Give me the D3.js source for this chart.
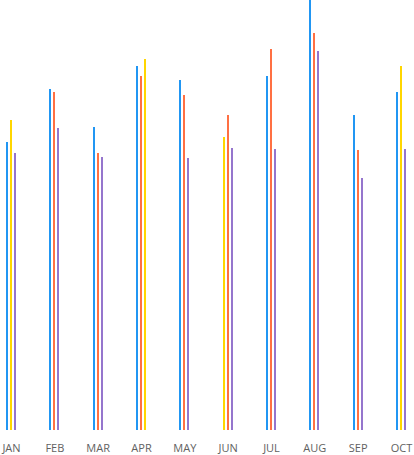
<!DOCTYPE html>
<html>
<head>
<meta charset="utf-8">
<script src="https://cdn.jsdelivr.net/npm/d3@7"></script>
<style>
  html, body { margin: 0; padding: 0; background: #fff; }
  svg { display: block; }
</style>
</head>
<body>
<svg id="chart" width="414" height="455"></svg>
<script>
// ---- data ----
const months = ["JAN","FEB","MAR","APR","MAY","JUN","JUL","AUG","SEP","OCT"];
// three bars per month; each bar belongs to one series (A blue, B yellow, C orange, D purple)
const bar1Series = ["A","A","A","A","A","B","A","A","A","A"];
const bar1Values = [72, 85.25, 75.75, 91, 87.5, 73.25, 88.5, 110, 78.75, 84.5];
const bar2Series = ["B","C","C","C","C","C","C","C","C","B"];
const bar2Values = [77.5, 84.5, 69.25, 88.5, 83.75, 78.75, 95.25, 99.25, 70, 91];
const bar3Series = ["D","D","D","B","D","D","D","D","D","D"];
const bar3Values = [69.25, 75.5, 68.25, 92.75, 68, 70.5, 70.25, 94.75, 63, 70.25];
const seriesKeys = ["A","B","C","D"];
const seriesColors = ["#2196F3","#FFD600","#FF7043","#9575CD"];

// ---- build ----
const rows = [];
months.forEach((m, i) => {
  [[bar1Series, bar1Values], [bar2Series, bar2Values], [bar3Series, bar3Values]].forEach(([s, v], slot) => {
    rows.push({ month: m, slot: slot, series: s[i], value: v[i] });
  });
});

const svg = d3.select("#chart");
const baseY = 430;

const x = d3.scalePoint().domain(months).range([11, 401]);
const xInner = d3.scaleBand().domain([0,1,2]).range([-6, 6]).paddingInner(0.5).paddingOuter(0.25);
const y = d3.scaleLinear().domain([0, 100]).range([baseY, 30]);
const color = d3.scaleOrdinal().domain(seriesKeys).range(seriesColors);

svg.append("g").attr("shape-rendering", "crispEdges")
  .selectAll("rect").data(rows).join("rect")
  .attr("x", d => Math.round(x(d.month) + xInner(d.slot)))
  .attr("width", xInner.bandwidth())
  .attr("y", d => Math.round(y(d.value)))
  .attr("height", d => baseY - Math.round(y(d.value)))
  .attr("fill", d => color(d.series));

const axis = d3.axisBottom(x).tickSize(0).tickPadding(0);
const gx = svg.append("g").attr("transform", `translate(0,${baseY + 14})`).call(axis);
gx.select(".domain").remove();
gx.selectAll("text")
  .attr("fill", "#616161")
  .attr("font-family", "'Open Sans', sans-serif")
  .attr("font-size", "11px");
</script>
</body>
</html>
